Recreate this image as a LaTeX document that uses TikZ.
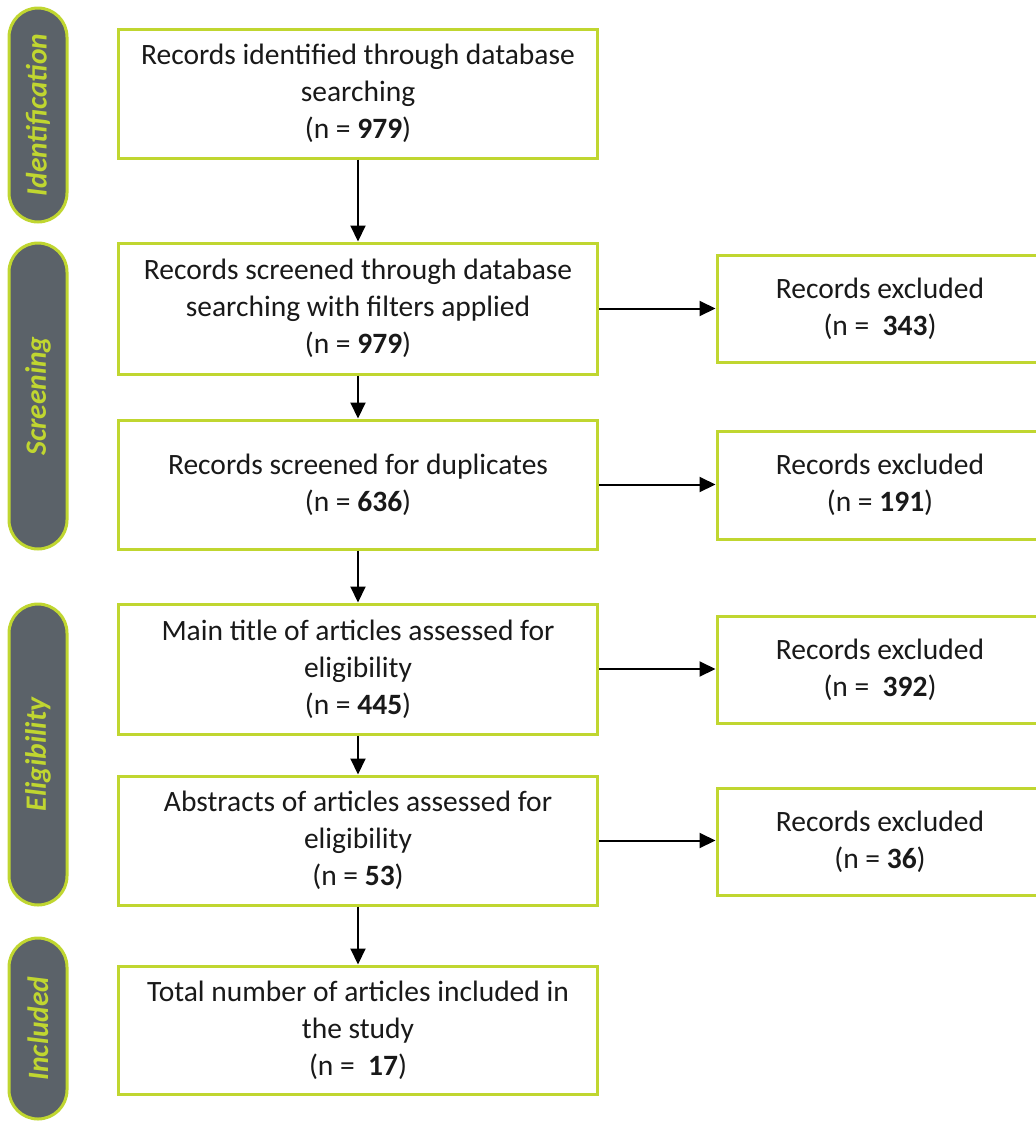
\documentclass[tikz,border=0pt]{standalone}
\usepackage{fontspec}
\setmainfont{Carlito}
\usetikzlibrary{arrows.meta}
\definecolor{lime}{RGB}{192,214,48}
\definecolor{pillgray}{RGB}{91,98,105}
\definecolor{txt}{RGB}{25,25,25}
\tikzset{
  box/.style={draw=lime, line width=3pt, fill=white, rectangle, inner sep=0pt,
    align=center, text=txt, font=\fontsize{29.5}{37}\selectfont},
  mainbox/.style={box, minimum width=479pt},
  sidebox/.style={box, minimum width=326pt, minimum height=107pt},
  pill/.style={draw=lime, line width=3pt, fill=pillgray, rounded corners=29pt,
    minimum width=58pt, inner sep=0pt},
  pilltext/.style={text=lime, rotate=90, font=\fontsize{29.5}{32}\selectfont\bfseries\itshape},
  arr/.style={line width=2pt, -{Triangle[length=16pt,width=15pt]}},
}
\begin{document}
\begin{tikzpicture}[x=1pt,y=-1pt]
\useasboundingbox (0,0) rectangle (1036,1122);
\begin{scope}
\clip (0,0) rectangle (1036,1122);
% pills
\node[pill, minimum height=214pt] (pI) at (38,115) {};
\node[pilltext] (tI) at (pI.center) {Identification};
\node[pill, minimum height=306pt] (pS) at (38,396) {};
\node[pilltext] (tS) at (pS.center) {Screening};
\node[pill, minimum height=301pt] (pE) at (38,754.5) {};
\node[pilltext] (tE) at (pE.center) {Eligibility};
\node[pill, minimum height=181pt] (pN) at (38,1028.5) {};
\node[pilltext] (tN) at (pN.center) {Included};
% main boxes
\node[mainbox, minimum height=129pt] (b1) at (358,93.5) {Records identified through database\\searching\\(n = \textbf{979})};
\node[mainbox, minimum height=131pt] (b2) at (358,308.5) {Records screened through database\\searching with filters applied\\(n = \textbf{979})};
\node[mainbox, minimum height=129pt] (b3) at (358,484.5) {Records screened for duplicates\\(n = \textbf{636})};
\node[mainbox, minimum height=130pt] (b4) at (358,669) {Main title of articles assessed for\\eligibility\\(n = \textbf{445})};
\node[mainbox, minimum height=129pt] (b5) at (358,840.5) {Abstracts of articles assessed for\\eligibility\\(n = \textbf{53})};
\node[mainbox, minimum height=128pt] (b6) at (358,1030) {Total number of articles included in\\the study\\(n = ~\textbf{17})};
% side boxes
\node[sidebox] (r1) at (880,308.5) {Records excluded\\(n = ~\textbf{343})};
\node[sidebox, minimum height=108pt] (r2) at (880,485) {Records excluded\\(n = \textbf{191})};
\node[sidebox] (r3) at (880,669.5) {Records excluded\\(n = ~\textbf{392})};
\node[sidebox] (r4) at (880,841.5) {Records excluded\\(n = \textbf{36})};
% arrows
\draw[arr] (b1) -- (b2);
\draw[arr] (b2) -- (b3);
\draw[arr] (b3) -- (b4);
\draw[arr] (b4) -- (b5);
\draw[arr] (b5) -- (b6);
\draw[arr] (b2.east) -- (b2.east -| r1.west);
\draw[arr] (b3.east) -- (b3.east -| r2.west);
\draw[arr] (b4.east) -- (b4.east -| r3.west);
\draw[arr] (b5.east) -- (b5.east -| r4.west);
\end{scope}
\end{tikzpicture}
\end{document}
